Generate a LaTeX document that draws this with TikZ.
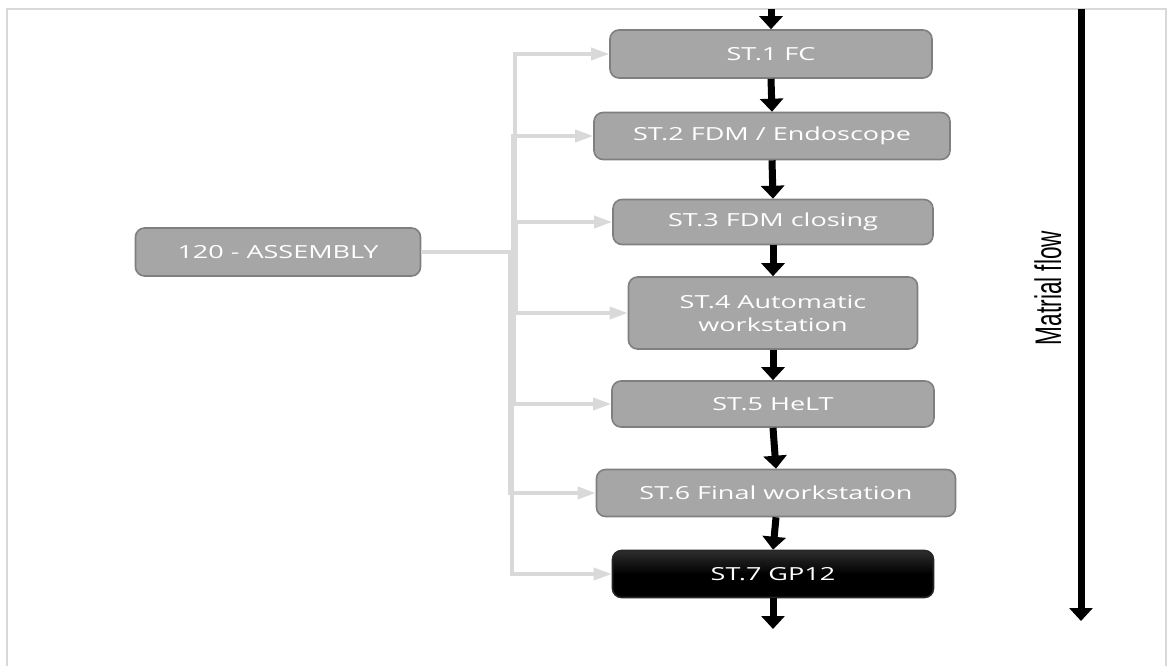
\documentclass[tikz,border=0pt]{standalone}
\usepackage{fontspec}
\setmainfont{Open Sans}
\newfontfamily\flowfont{Liberation Sans}
\usetikzlibrary{arrows.meta}
\definecolor{frameg}{HTML}{D9D9D9}
\definecolor{boxfill}{HTML}{A6A6A6}
\definecolor{boxline}{HTML}{7F7F7F}
\newcommand{\widetxt}[1]{\scalebox{1.5}[1]{#1}}
\tikzset{
  stbox/.style={draw=boxline, line width=1.6pt, fill=boxfill, rounded corners=9pt,
    text=white, align=center, inner sep=0pt,
    font=\fontsize{18}{23}\selectfont},
  feed/.style={draw=frameg, line width=3.5pt, -{Triangle[length=18pt,width=12pt]}},
  flow/.style={draw=black, line width=7pt, -{Triangle[length=13pt,width=23pt]}},
}
\begin{document}
\begin{tikzpicture}[x=1pt,y=-1pt]
\useasboundingbox (0,0) rectangle (1167,666);
% frame
\draw[frameg, line width=2pt] (7,666) -- (7,9) -- (1166,9) -- (1166,666);
% boxes
\node[stbox, minimum width=285pt, minimum height=48pt] (asm) at (278,252) {\widetxt{120 - ASSEMBLY}};
\node[stbox, minimum width=322pt, minimum height=48pt] (s1) at (771,54) {\widetxt{ST.1 FC}};
\node[stbox, minimum width=356pt, minimum height=47pt] (s2) at (772,136) {\widetxt{ST.2 FDM / Endoscope}};
\node[stbox, minimum width=320pt, minimum height=45pt] (s3) at (773,222) {\widetxt{ST.3 FDM closing}};
\node[stbox, minimum width=289pt, minimum height=72pt] (s4) at (773,313) {\widetxt{ST.4 Automatic}\\\widetxt{workstation}};
\node[stbox, minimum width=322pt, minimum height=46pt] (s5) at (773,404) {\widetxt{ST.5 HeLT}};
\node[stbox, minimum width=359pt, minimum height=47pt] (s6) at (776,493) {\widetxt{ST.6 Final workstation}};
\node[stbox, draw=black!85, top color=black!82, bottom color=black, middle color=black, minimum width=321pt, minimum height=47pt] (s7) at (773,574) {\widetxt{ST.7 GP12}};
% feed connectors
\draw[feed] (asm.east) -- (515,252) |- (s1.west);
\draw[feed] (asm.east) -- (513,252) |- (s2.west);
\draw[feed] (asm.east) -- (516,252) |- (s3.west);
\draw[feed] (asm.east) -- (516,252) |- (s4.west);
\draw[feed] (asm.east) -- (514,252) |- (s5.west);
\draw[feed] (asm.east) -- (510,252) |- (s6.west);
\draw[feed] (asm.east) -- (512,252) |- (s7.west);
% material flow arrows
\coordinate (in) at (771,9);
\coordinate (out) at (773,629);
\draw[flow] (in) -- (s1.north);
\draw[flow] (s1.south) -- (s2.north);
\draw[flow] (s2.south) -- (s3.north);
\draw[flow] (s3.south) -- (s4.north);
\draw[flow] (s4.south) -- (s5.north);
\draw[flow] (s5.south) -- (s6.north);
\draw[flow] (s6.south) -- (s7.north);
\draw[flow] (s7.south) -- (out);
% material flow side arrow
\coordinate (mtop) at (1081,9);
\coordinate (mbot) at (1081,621);
\draw[flow] (mtop) -- (mbot);
\node[rotate=90, inner sep=0pt, font=\flowfont\fontsize{37}{37}\selectfont] (mlabel) at (1048,288) {\scalebox{0.61}[1]{Matrial flow}};
\end{tikzpicture}
\end{document}
